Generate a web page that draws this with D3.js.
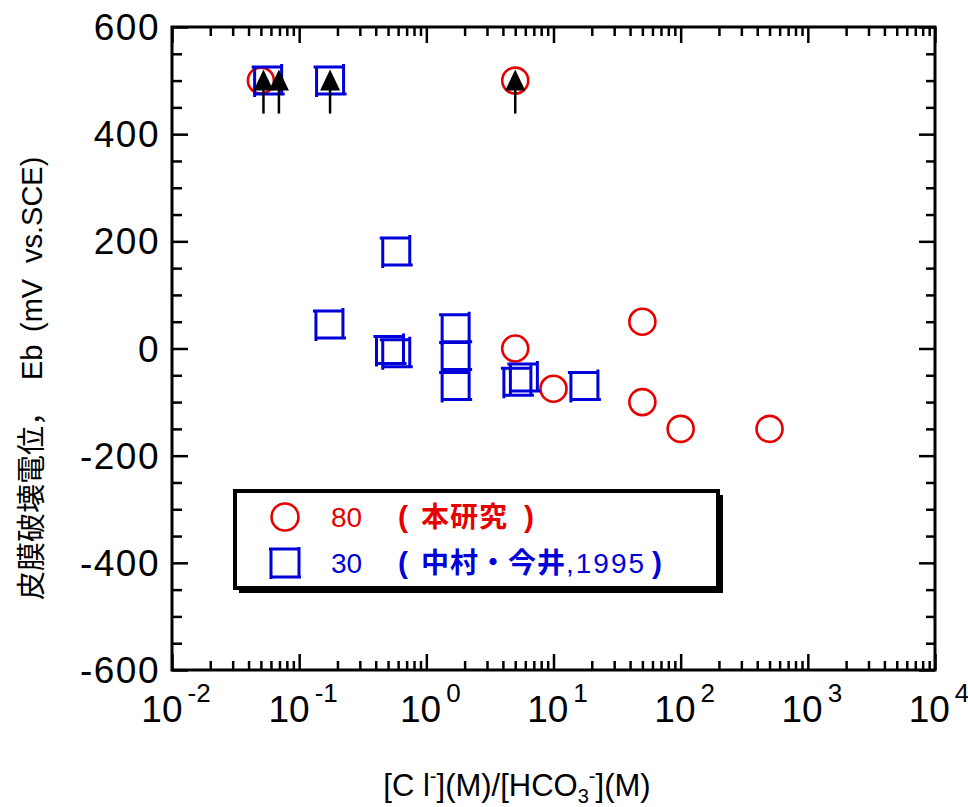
<!DOCTYPE html>
<html>
<head>
<meta charset="utf-8">
<script src="https://cdn.jsdelivr.net/npm/d3@7"></script>
<style>
  html, body { margin: 0; padding: 0; background: #fff; }
  svg text { font-family: "Liberation Sans", Arial, "Noto Sans CJK JP", sans-serif; }
</style>
</head>
<body>
<svg id="chart" width="968" height="807"></svg>
<script>
// Ratio [Cl-]/[HCO3-] vs. film breakdown potential
const circX = [0.05, 5, 5, 10, 50, 50, 100, 500];
const circY = [500, 500, 0, -75, 50, -100, -150, -150];

const sqX = [0.057, 0.175, 0.58, 0.173, 0.518, 0.58, 1.7, 1.7, 1.7, 5.2, 5.85, 17.5];
const sqY = [500, 500, 181, 45, -3, -9, 38, -14, -70, -62, -54, -70];

// points where no breakdown occurred (arrows pointing up)
const arrowX = [0.0524, 0.0693, 0.175, 5];
const arrowY = [500, 500, 500, 500];

const yTicks = [-600, -400, -200, 0, 200, 400, 600];
const xDecades = [-2, -1, 0, 1, 2, 3, 4];

const legendLabels = ["80", "30"];
const legendNotes = ["本研究", "中村・今井"];
const legendYears = ["", ",1995"];

const RED = "#e60000";
const BLUE = "#0000d8";
const CJK = "'Noto Sans CJK JP', sans-serif";

const svg = d3.select("#chart");
const pLeft = 172, pRight = 935, pTop = 27, pBottom = 670;

const x = d3.scaleLog().domain([1e-2, 1e4]).range([pLeft, pRight]);
const y = d3.scaleLinear().domain([-600, 600]).range([pBottom, pTop]);

// minor ticks
const yMinor = d3.range(-600, 601, 50).filter(v => !yTicks.includes(v));
const xMinor = [];
for (let e = -2; e < 4; e++) for (let m = 2; m <= 9; m++) xMinor.push(m * Math.pow(10, e));
const xMajor = xDecades.map(e => Math.pow(10, e));

function styleAxis(g) {
  g.select(".domain").remove();
  g.selectAll(".tick line").attr("stroke", "#000").attr("stroke-width", 2.5);
  g.selectAll(".tick text").remove();
}

// left / right
svg.append("g").attr("transform", `translate(${pLeft},0)`)
  .call(d3.axisLeft(y).tickValues(yTicks).tickSize(-16)).call(styleAxis);
svg.append("g").attr("transform", `translate(${pLeft},0)`)
  .call(d3.axisLeft(y).tickValues(yMinor).tickSize(-10)).call(styleAxis);
svg.append("g").attr("transform", `translate(${pRight},0)`)
  .call(d3.axisRight(y).tickValues(yTicks).tickSize(-16)).call(styleAxis);
svg.append("g").attr("transform", `translate(${pRight},0)`)
  .call(d3.axisRight(y).tickValues(yMinor).tickSize(-9)).call(styleAxis);
// bottom / top
svg.append("g").attr("transform", `translate(0,${pBottom})`)
  .call(d3.axisBottom(x).tickValues(xMajor).tickSize(-16)).call(styleAxis);
svg.append("g").attr("transform", `translate(0,${pBottom})`)
  .call(d3.axisBottom(x).tickValues(xMinor).tickSize(-9)).call(styleAxis);
svg.append("g").attr("transform", `translate(0,${pTop})`)
  .call(d3.axisTop(x).tickValues(xMajor).tickSize(-16)).call(styleAxis);
svg.append("g").attr("transform", `translate(0,${pTop})`)
  .call(d3.axisTop(x).tickValues(xMinor).tickSize(-9)).call(styleAxis);

// frame
svg.append("rect").attr("x", pLeft).attr("y", pTop)
  .attr("width", pRight - pLeft).attr("height", pBottom - pTop)
  .attr("fill", "none").attr("stroke", "#000").attr("stroke-width", 3);

// y tick labels
svg.append("g").selectAll("text").data(yTicks).join("text")
  .attr("x", pLeft - 12).attr("y", d => y(d) + 13)
  .attr("text-anchor", "end").attr("font-size", 37).attr("letter-spacing", 1.5)
  .text(d => d);

// x tick labels 10^n
const xl = svg.append("g").selectAll("text").data(xDecades).join("text")
  .attr("x", d => x(Math.pow(10, d)) + 4).attr("y", 722)
  .attr("text-anchor", "middle").attr("font-size", 37);
xl.append("tspan").text("10");
xl.append("tspan").attr("font-size", 26).attr("dy", -20).attr("dx", 5)
  .text(d => d < 0 ? "-" + (-d) : String(d));

// x axis title
const xt = svg.append("text").attr("x", 517).attr("y", 796)
  .attr("text-anchor", "middle").attr("font-size", 31);
xt.append("tspan").text("[C l");
xt.append("tspan").attr("font-size", 20).attr("dy", -13).text("-");
xt.append("tspan").attr("dy", 13).text("](M)/[HCO");
xt.append("tspan").attr("font-size", 20).attr("dy", 7).text("3");
xt.append("tspan").attr("font-size", 20).attr("dy", -20).text("-");
xt.append("tspan").attr("dy", 13).text("](M)");

// y axis title (rotated)
const yt = svg.append("text")
  .attr("transform", "translate(42,600) rotate(-90)")
  .attr("font-size", 29);
yt.append("tspan").attr("x", 0).attr("font-family", CJK).attr("font-size", 29).text("皮膜破壊電位，");
yt.append("tspan").attr("x", 220).text("Eb");
yt.append("tspan").attr("x", 268).text("(mV");
yt.append("tspan").attr("x", 337).text("vs.SCE)");

// marker shapes
const H = 13.5, E = 3;
function squarePath(cx, cy, h = H, e = E) {
  return `M${cx - h - e},${cy - h}H${cx + h}` +
         `M${cx + h},${cy - h - e}V${cy + h}` +
         `M${cx - h},${cy + h}H${cx + h + e}` +
         `M${cx - h},${cy - h}V${cy + h + e}`;
}

const plot = svg.append("g");
plot.selectAll("circle.pt").data(circX.map((v, i) => [v, circY[i]])).join("circle")
  .attr("class", "pt")
  .attr("cx", d => x(d[0])).attr("cy", d => y(d[1])).attr("r", 13)
  .attr("fill", "none").attr("stroke", RED).attr("stroke-width", 2.6);

plot.selectAll("path.sq").data(sqX.map((v, i) => [v, sqY[i]])).join("path")
  .attr("class", "sq")
  .attr("d", d => squarePath(x(d[0]), y(d[1])))
  .attr("fill", "none").attr("stroke", BLUE).attr("stroke-width", 3);

// arrows
const arrows = plot.selectAll("g.arrow").data(arrowX.map((v, i) => [v, arrowY[i]])).join("g")
  .attr("class", "arrow")
  .attr("transform", d => `translate(${x(d[0])},${y(d[1])})`);
arrows.append("line").attr("x1", 0).attr("x2", 0).attr("y1", 0).attr("y2", 33)
  .attr("stroke", "#000").attr("stroke-width", 2.5);
arrows.append("path").attr("d", "M0,-11L10,10L-10,10Z").attr("fill", "#000");

// legend
const lg = svg.append("g");
lg.append("rect").attr("x", 239).attr("y", 495).attr("width", 484).attr("height", 98).attr("fill", "#000");
lg.append("rect").attr("x", 235).attr("y", 491).attr("width", 483).attr("height", 97)
  .attr("fill", "#fff").attr("stroke", "#000").attr("stroke-width", 4);

const rows = [517, 563];
lg.append("circle").attr("cx", 285).attr("cy", rows[0]).attr("r", 13.5)
  .attr("fill", "none").attr("stroke", RED).attr("stroke-width", 2.6);
lg.append("path").attr("d", squarePath(285, rows[1], 14, 2))
  .attr("fill", "none").attr("stroke", BLUE).attr("stroke-width", 3);

const colors = [RED, BLUE];
legendLabels.forEach((lab, i) => {
  const by = rows[i] + 10;
  lg.append("text").attr("x", 331).attr("y", by)
    .attr("font-size", 28).attr("fill", colors[i]).text(lab);
  const t = lg.append("text").attr("y", by).attr("font-size", 28).attr("fill", colors[i]);
  t.append("tspan").attr("x", 398).attr("font-weight", "bold").attr("font-size", 30).text("(");
  t.append("tspan").attr("x", 421).attr("font-family", CJK).attr("font-weight", "bold")
    .attr("font-size", 28).attr("letter-spacing", 1).text(legendNotes[i]);
  if (legendYears[i]) {
    t.append("tspan").attr("letter-spacing", 2).text(legendYears[i]);
    t.append("tspan").attr("dx", 6).attr("font-weight", "bold").attr("font-size", 30).text(")");
  } else {
    t.append("tspan").attr("dx", 16).attr("font-weight", "bold").attr("font-size", 30).text(")");
  }
});
</script>
</body>
</html>
